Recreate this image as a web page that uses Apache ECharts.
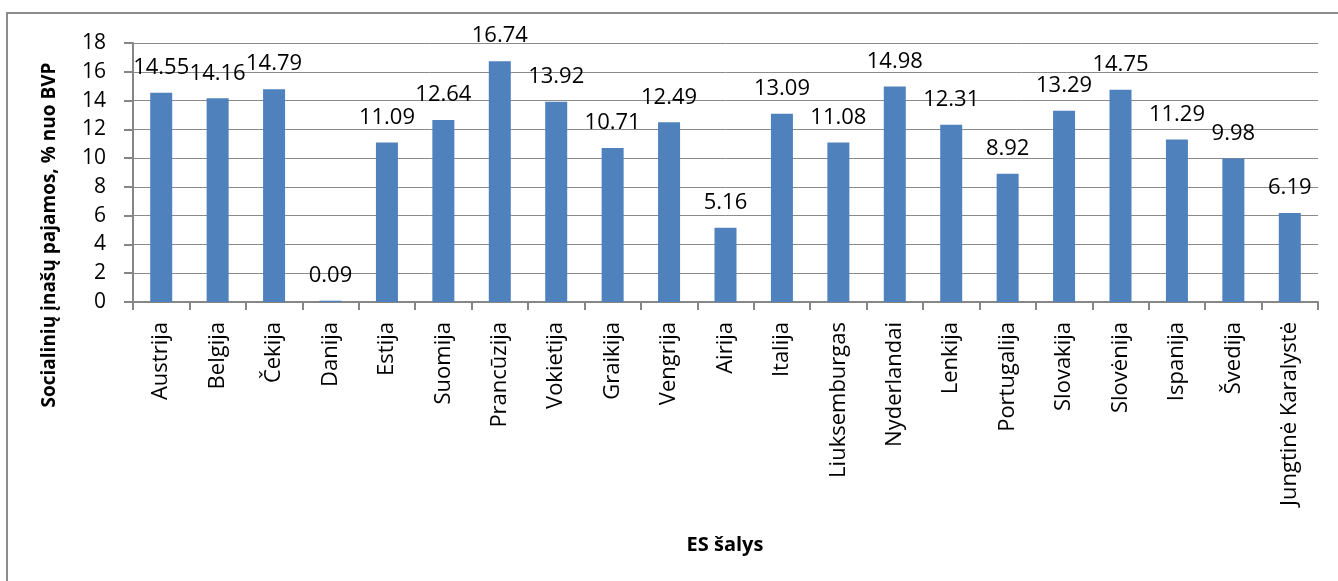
<!DOCTYPE html>
<html>
<head>
<meta charset="utf-8">
<script src="https://cdn.jsdelivr.net/npm/echarts@6/dist/echarts.min.js"></script>
<style>
  html, body { margin: 0; padding: 0; background: #fff; }
  #chart { width: 1338px; height: 581px; }
</style>
</head>
<body>
<div id="chart"></div>
<script>
// Social contribution revenue as % of GDP, EU countries
const countries = [
  'Austrija', 'Belgija', 'Čekija', 'Danija', 'Estija', 'Suomija', 'Prancūzija',
  'Vokietija', 'Graikija', 'Vengrija', 'Airija', 'Italija', 'Liuksemburgas',
  'Nyderlandai', 'Lenkija', 'Portugalija', 'Slovakija', 'Slovėnija', 'Ispanija',
  'Švedija', 'Jungtinė Karalystė'
];
const revenueShare = [
  14.55, 14.16, 14.79, 0.09, 11.09, 12.64, 16.74,
  13.92, 10.71, 12.49, 5.16, 13.09, 11.08,
  14.98, 12.31, 8.92, 13.29, 14.75, 11.29,
  9.98, 6.19
];
const yTicks = { min: 0, max: 18, step: 2 };
const yTitle = 'Socialinių įnašų pajamos, % nuo BVP';
const xTitle = 'ES šalys';

const FONT = '"Open Sans", "Liberation Sans", sans-serif';
const GRID = { left: 133, top: 43, right: 20, bottom: 279 };

const chart = echarts.init(document.getElementById('chart'));
chart.setOption({
  animation: false,
  backgroundColor: '#ffffff',
  textStyle: { fontFamily: FONT },
  grid: GRID,
  graphic: [
    {
      type: 'rect',
      shape: { x: 7, y: 13, width: 1400, height: 700 },
      style: { fill: 'none', stroke: '#8c8c8c', lineWidth: 2 },
      silent: true
    },
    {
      type: 'text',
      x: 50, y: 235,
      rotation: Math.PI / 2,
      style: {
        text: yTitle,
        font: 'bold 19px ' + FONT,
        fill: '#000',
        align: 'center',
        verticalAlign: 'middle'
      }
    },
    {
      type: 'text',
      x: 725, y: 545,
      style: {
        text: xTitle,
        font: 'bold 20px ' + FONT,
        fill: '#000',
        align: 'center',
        verticalAlign: 'middle'
      }
    }
  ],
  xAxis: {
    type: 'category',
    data: countries,
    axisLine: { lineStyle: { color: '#868686', width: 2 } },
    axisTick: { show: true, length: 8, lineStyle: { color: '#868686', width: 2 } },
    axisLabel: {
      rotate: 90,
      interval: 0,
      margin: 20,
      color: '#000',
      fontSize: 22,
      fontFamily: FONT
    }
  },
  yAxis: {
    type: 'value',
    min: yTicks.min,
    max: yTicks.max,
    interval: yTicks.step,
    axisLine: { show: true, lineStyle: { color: '#868686', width: 2 } },
    axisTick: { show: true, length: 9, lineStyle: { color: '#868686', width: 2 } },
    splitLine: { show: true, lineStyle: { color: '#8a8a8a', width: 1 } },
    axisLabel: {
      margin: 27,
      color: '#000',
      fontSize: 21,
      fontFamily: FONT
    }
  },
  series: [{
    type: 'bar',
    data: revenueShare,
    barWidth: 22,
    itemStyle: { color: '#4f81bd' },
    label: {
      show: true,
      position: 'top',
      distance: 14,
      color: '#000',
      fontSize: 22,
      fontFamily: FONT,
      formatter: p => p.value.toFixed(2)
    }
  }]
});
</script>
</body>
</html>
